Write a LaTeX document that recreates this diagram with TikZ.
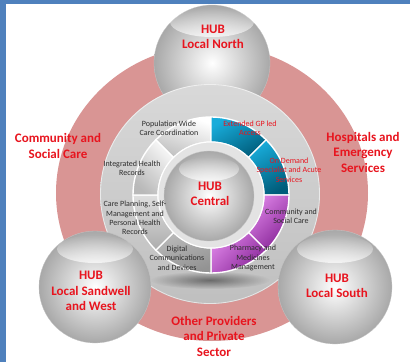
\documentclass[tikz,border=0pt]{standalone}
\usepackage{fontspec}
\setmainfont{Carlito}
\usetikzlibrary{fadings}

\definecolor{framebl}{RGB}{79,129,189}
\definecolor{hubred}{RGB}{232,20,30}
\definecolor{ringpink}{RGB}{217,149,148}
\definecolor{segcyan}{RGB}{24,172,218}
\definecolor{segteal}{RGB}{0,92,122}
\definecolor{seglilac}{RGB}{218,128,228}
\definecolor{segplum}{RGB}{136,38,152}
\definecolor{inktext}{RGB}{45,45,45}

\tikzfading[name=softspot, inner color=transparent!25, outer color=transparent!100]

\begin{document}
\begin{tikzpicture}
	[x=1pt, y=1pt,
	 hubball/.style={circle, inner sep=0pt, shade, inner color=white, outer color=gray!68, draw=gray!45, line width=0.3pt},
	 gloss/.style={fill=white, fill opacity=0.7, path fading=north},
	 bigred/.style={text=hubred, font=\fontsize{13}{15.5}\selectfont\bfseries, align=center},
	 seglabel/.style={text=inktext, font=\fontsize{8}{9.3}\selectfont, align=center},
	 segedge/.style={draw=white, line width=1.4pt}]
   \useasboundingbox (0,0) rectangle (410,362);
   \fill[white] (0,0) rectangle (410,362);
   \fill[framebl] (0,358) rectangle (410,362);
   \fill[framebl] (0,0) rectangle (6,362);

   \coordinate (ring) at (211,167);

   % outer band of partners
   \fill[ringpink] (212,169) ellipse [x radius=156, y radius=148];
   \node[hubball, minimum size=116pt] (north) at (212,299) {};
   \fill[gloss] (212,340) ellipse [x radius=42, y radius=15];
   \shade[top color=gray!30, bottom color=gray!50] (210,168) circle [radius=110];
   \draw[white, opacity=0.6, line width=0.8pt] (210,168) circle [radius=109.5];
   \fill[black, opacity=0.6, path fading=softspot] (210,82) ellipse [x radius=60, y radius=9];

   % eight programme segments
   \foreach \a/\ca/\cb/\sa [evaluate=\a as \b using \a+45] in
     {90/white/gray!50/-20, 45/segcyan/segteal/30, 0/segcyan/segteal/30,
      -45/seglilac/segplum/45, -90/seglilac/segplum/45, -135/gray!55/gray!85/20,
      180/gray!25/gray!65/0, 135/gray!5/gray!55/-45}
     \shade[segedge, top color=\ca, bottom color=\cb, shading angle=\sa]
       ([shift={(\a:78)}]ring) arc [start angle=\a, end angle=\b, radius=78]
       -- ([shift={(\b:53)}]ring) arc [start angle=\b, end angle=\a, radius=53] -- cycle;

   \fill[gray!22, draw=white, line width=1pt] (ring) circle [radius=53];
   \node[hubball, minimum size=90pt] (hubc) at (209,166) {};
   \fill[gloss] (209,193) ellipse [x radius=30, y radius=12];

   \node[hubball, minimum size=112pt] (west) at (95,75) {};
   \fill[gloss] (95,113) ellipse [x radius=38, y radius=14];
   \node[hubball, minimum size=114pt] (south) at (335,75) {};
   \fill[gloss] (335,113) ellipse [x radius=38, y radius=14];

   % labels
   \node[bigred] (northtxt) at (213,325) {HUB\\Local North};
   \node[bigred] (commtxt) at (58,216) {Community and\\Social Care};
   \node[bigred] (hosptxt) at (363,210) {Hospitals and\\Emergency\\Services};
   \node[bigred] (westtxt) at (91,71) {HUB\\Local Sandwell\\and West};
   \node[bigred] (southtxt) at (337,76) {HUB\\Local South};
   \node[bigred] (othertxt) at (214,26) {Other Providers\\and Private\\Sector};
   \node[bigred] (centraltxt) at (210,168) {HUB\\Central};

   \node[seglabel] (popl) at (169,234) {Population Wide\\Care Coordination};
   \node[seglabel, text=hubred] (gpl) at (250,234) {Extended GP led\\Access};
   \node[seglabel] (intl) at (132,194) {Integrated Health\\Records};
   \node[seglabel, text=hubred] (acutel) at (289,192) {On Demand\\Specialist and Acute\\Services};
   \node[seglabel] (planl) at (135,144) {Care Planning, Self-\\Management and\\Personal Health\\Records};
   \node[seglabel] (sociall) at (291,146) {Community and\\Social Care};
   \node[seglabel] (digl) at (177,104) {Digital\\Communications\\and Devices};
   \node[seglabel] (pharml) at (253,104) {Pharmacy and\\Medicines\\Management};
\end{tikzpicture}
\end{document}
